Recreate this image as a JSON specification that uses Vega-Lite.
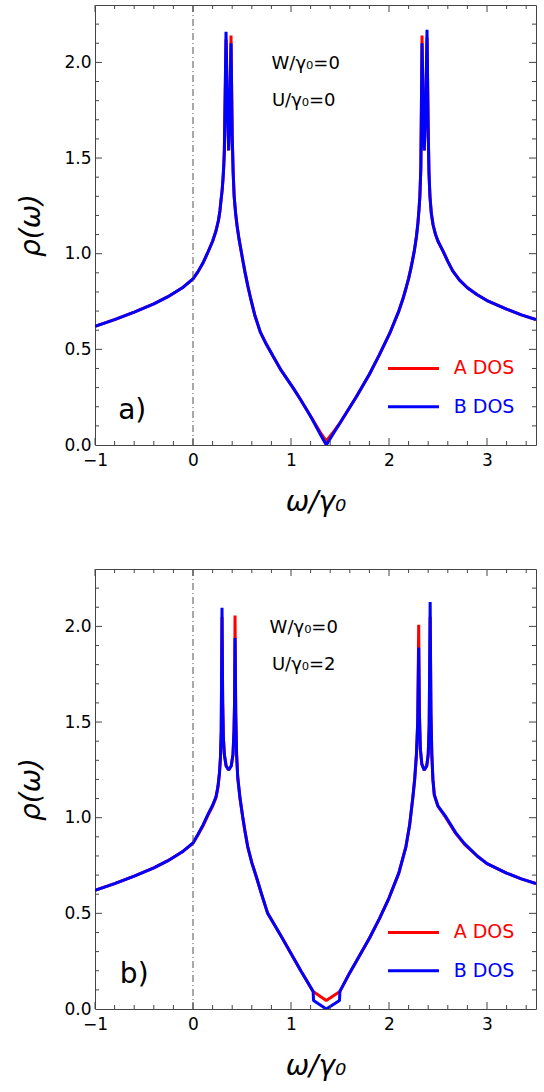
{
  "$schema": "https://vega.github.io/schema/vega-lite/v6.json",
  "background": "white",
  "padding": {"left": 17, "top": 4, "right": 8, "bottom": 0},
  "autosize": {"type": "pad"},
  "config": {
    "view": {"stroke": "#444", "strokeWidth": 1},
    "axis": {"grid": false, "domain": false, "ticks": false, "labelFont": "DejaVu Sans", "labelFontSize": 17, "labelColor": "black", "labelFlush": false, "titleFont": "DejaVu Sans", "titleFontStyle": "italic", "titleFontWeight": "normal", "titleFontSize": 28, "titleColor": "black"},
    "text": {"font": "DejaVu Sans"}
  },
  "datasets": {
    "curves_a": [
      {"s": "A", "x": -1, "y": 0.62}, {"s": "A", "x": -0.8, "y": 0.655}, {"s": "A", "x": -0.6, "y": 0.695}, {"s": "A", "x": -0.4, "y": 0.738}, {"s": "A", "x": -0.26, "y": 0.774}, {"s": "A", "x": -0.1, "y": 0.825}, {"s": "A", "x": 0, "y": 0.868}, {"s": "A", "x": 0.05, "y": 0.905}, {"s": "A", "x": 0.1, "y": 0.95}, {"s": "A", "x": 0.15, "y": 1.005}, {"s": "A", "x": 0.2, "y": 1.065}, {"s": "A", "x": 0.235, "y": 1.12}, {"s": "A", "x": 0.26, "y": 1.175}, {"s": "A", "x": 0.275, "y": 1.225}, {"s": "A", "x": 0.286, "y": 1.28}, {"s": "A", "x": 0.297, "y": 1.33}, {"s": "A", "x": 0.306, "y": 1.39}, {"s": "A", "x": 0.314, "y": 1.46}, {"s": "A", "x": 0.32, "y": 1.54}, {"s": "A", "x": 0.337, "y": 2.12}, {"s": "A", "x": 0.352, "y": 1.75}, {"s": "A", "x": 0.364, "y": 1.54}, {"s": "A", "x": 0.376, "y": 1.75}, {"s": "A", "x": 0.388, "y": 2.14}, {"s": "A", "x": 0.4, "y": 1.62}, {"s": "A", "x": 0.41, "y": 1.42}, {"s": "A", "x": 0.42, "y": 1.3}, {"s": "A", "x": 0.435, "y": 1.21}, {"s": "A", "x": 0.45, "y": 1.145}, {"s": "A", "x": 0.47, "y": 1.075}, {"s": "A", "x": 0.49, "y": 1.018}, {"s": "A", "x": 0.51, "y": 0.96}, {"s": "A", "x": 0.53, "y": 0.905}, {"s": "A", "x": 0.56, "y": 0.83}, {"s": "A", "x": 0.59, "y": 0.762}, {"s": "A", "x": 0.63, "y": 0.68}, {"s": "A", "x": 0.687, "y": 0.59}, {"s": "A", "x": 0.75, "y": 0.525}, {"s": "A", "x": 0.816, "y": 0.465}, {"s": "A", "x": 0.9, "y": 0.39}, {"s": "A", "x": 1.02, "y": 0.3}, {"s": "A", "x": 1.1, "y": 0.235}, {"s": "A", "x": 1.2, "y": 0.15}, {"s": "A", "x": 1.3, "y": 0.065}, {"s": "A", "x": 1.36, "y": 0.02}, {"s": "A", "x": 1.42, "y": 0.06}, {"s": "A", "x": 1.5, "y": 0.115}, {"s": "A", "x": 1.667, "y": 0.252}, {"s": "A", "x": 1.8, "y": 0.37}, {"s": "A", "x": 1.9, "y": 0.47}, {"s": "A", "x": 2.007, "y": 0.583}, {"s": "A", "x": 2.1, "y": 0.7}, {"s": "A", "x": 2.14, "y": 0.76}, {"s": "A", "x": 2.177, "y": 0.826}, {"s": "A", "x": 2.2, "y": 0.87}, {"s": "A", "x": 2.22, "y": 0.915}, {"s": "A", "x": 2.24, "y": 0.965}, {"s": "A", "x": 2.26, "y": 1.02}, {"s": "A", "x": 2.28, "y": 1.09}, {"s": "A", "x": 2.295, "y": 1.16}, {"s": "A", "x": 2.306, "y": 1.23}, {"s": "A", "x": 2.315, "y": 1.3}, {"s": "A", "x": 2.325, "y": 1.45}, {"s": "A", "x": 2.337, "y": 2.14}, {"s": "A", "x": 2.349, "y": 1.75}, {"s": "A", "x": 2.36, "y": 1.54}, {"s": "A", "x": 2.374, "y": 1.75}, {"s": "A", "x": 2.388, "y": 2.13}, {"s": "A", "x": 2.4, "y": 1.65}, {"s": "A", "x": 2.408, "y": 1.42}, {"s": "A", "x": 2.418, "y": 1.3}, {"s": "A", "x": 2.432, "y": 1.21}, {"s": "A", "x": 2.45, "y": 1.15}, {"s": "A", "x": 2.475, "y": 1.1}, {"s": "A", "x": 2.5, "y": 1.065}, {"s": "A", "x": 2.55, "y": 1.015}, {"s": "A", "x": 2.6, "y": 0.96}, {"s": "A", "x": 2.65, "y": 0.91}, {"s": "A", "x": 2.72, "y": 0.862}, {"s": "A", "x": 2.8, "y": 0.822}, {"s": "A", "x": 2.9, "y": 0.785}, {"s": "A", "x": 3.0, "y": 0.755}, {"s": "A", "x": 3.2, "y": 0.71}, {"s": "A", "x": 3.35, "y": 0.68}, {"s": "A", "x": 3.5, "y": 0.656},
      {"s": "B", "x": -1, "y": 0.62}, {"s": "B", "x": -0.8, "y": 0.655}, {"s": "B", "x": -0.6, "y": 0.695}, {"s": "B", "x": -0.4, "y": 0.738}, {"s": "B", "x": -0.26, "y": 0.774}, {"s": "B", "x": -0.1, "y": 0.825}, {"s": "B", "x": 0, "y": 0.868}, {"s": "B", "x": 0.05, "y": 0.905}, {"s": "B", "x": 0.1, "y": 0.95}, {"s": "B", "x": 0.15, "y": 1.005}, {"s": "B", "x": 0.2, "y": 1.065}, {"s": "B", "x": 0.235, "y": 1.12}, {"s": "B", "x": 0.26, "y": 1.175}, {"s": "B", "x": 0.275, "y": 1.225}, {"s": "B", "x": 0.286, "y": 1.28}, {"s": "B", "x": 0.297, "y": 1.33}, {"s": "B", "x": 0.306, "y": 1.39}, {"s": "B", "x": 0.314, "y": 1.46}, {"s": "B", "x": 0.32, "y": 1.54}, {"s": "B", "x": 0.337, "y": 2.16}, {"s": "B", "x": 0.352, "y": 1.75}, {"s": "B", "x": 0.364, "y": 1.54}, {"s": "B", "x": 0.376, "y": 1.75}, {"s": "B", "x": 0.388, "y": 2.1}, {"s": "B", "x": 0.4, "y": 1.62}, {"s": "B", "x": 0.41, "y": 1.42}, {"s": "B", "x": 0.42, "y": 1.3}, {"s": "B", "x": 0.435, "y": 1.21}, {"s": "B", "x": 0.45, "y": 1.145}, {"s": "B", "x": 0.47, "y": 1.075}, {"s": "B", "x": 0.49, "y": 1.018}, {"s": "B", "x": 0.51, "y": 0.96}, {"s": "B", "x": 0.53, "y": 0.905}, {"s": "B", "x": 0.56, "y": 0.83}, {"s": "B", "x": 0.59, "y": 0.762}, {"s": "B", "x": 0.63, "y": 0.68}, {"s": "B", "x": 0.687, "y": 0.59}, {"s": "B", "x": 0.75, "y": 0.525}, {"s": "B", "x": 0.816, "y": 0.465}, {"s": "B", "x": 0.9, "y": 0.39}, {"s": "B", "x": 1.02, "y": 0.3}, {"s": "B", "x": 1.1, "y": 0.235}, {"s": "B", "x": 1.2, "y": 0.15}, {"s": "B", "x": 1.3, "y": 0.055}, {"s": "B", "x": 1.36, "y": 0.0}, {"s": "B", "x": 1.42, "y": 0.05}, {"s": "B", "x": 1.5, "y": 0.115}, {"s": "B", "x": 1.667, "y": 0.252}, {"s": "B", "x": 1.8, "y": 0.37}, {"s": "B", "x": 1.9, "y": 0.47}, {"s": "B", "x": 2.007, "y": 0.583}, {"s": "B", "x": 2.1, "y": 0.7}, {"s": "B", "x": 2.14, "y": 0.76}, {"s": "B", "x": 2.177, "y": 0.826}, {"s": "B", "x": 2.2, "y": 0.87}, {"s": "B", "x": 2.22, "y": 0.915}, {"s": "B", "x": 2.24, "y": 0.965}, {"s": "B", "x": 2.26, "y": 1.02}, {"s": "B", "x": 2.28, "y": 1.09}, {"s": "B", "x": 2.295, "y": 1.16}, {"s": "B", "x": 2.306, "y": 1.23}, {"s": "B", "x": 2.315, "y": 1.3}, {"s": "B", "x": 2.325, "y": 1.45}, {"s": "B", "x": 2.337, "y": 2.1}, {"s": "B", "x": 2.349, "y": 1.75}, {"s": "B", "x": 2.36, "y": 1.54}, {"s": "B", "x": 2.374, "y": 1.75}, {"s": "B", "x": 2.388, "y": 2.17}, {"s": "B", "x": 2.4, "y": 1.65}, {"s": "B", "x": 2.408, "y": 1.42}, {"s": "B", "x": 2.418, "y": 1.3}, {"s": "B", "x": 2.432, "y": 1.21}, {"s": "B", "x": 2.45, "y": 1.15}, {"s": "B", "x": 2.475, "y": 1.1}, {"s": "B", "x": 2.5, "y": 1.065}, {"s": "B", "x": 2.55, "y": 1.015}, {"s": "B", "x": 2.6, "y": 0.96}, {"s": "B", "x": 2.65, "y": 0.91}, {"s": "B", "x": 2.72, "y": 0.862}, {"s": "B", "x": 2.8, "y": 0.822}, {"s": "B", "x": 2.9, "y": 0.785}, {"s": "B", "x": 3.0, "y": 0.755}, {"s": "B", "x": 3.2, "y": 0.71}, {"s": "B", "x": 3.35, "y": 0.68}, {"s": "B", "x": 3.5, "y": 0.656}
    ],
    "curves_b": [
      {"s": "A", "x": -1, "y": 0.62}, {"s": "A", "x": -0.8, "y": 0.655}, {"s": "A", "x": -0.6, "y": 0.695}, {"s": "A", "x": -0.4, "y": 0.738}, {"s": "A", "x": -0.26, "y": 0.774}, {"s": "A", "x": -0.1, "y": 0.825}, {"s": "A", "x": 0, "y": 0.866}, {"s": "A", "x": 0.05, "y": 0.91}, {"s": "A", "x": 0.1, "y": 0.955}, {"s": "A", "x": 0.15, "y": 1.01}, {"s": "A", "x": 0.2, "y": 1.06}, {"s": "A", "x": 0.235, "y": 1.105}, {"s": "A", "x": 0.255, "y": 1.16}, {"s": "A", "x": 0.27, "y": 1.23}, {"s": "A", "x": 0.28, "y": 1.31}, {"s": "A", "x": 0.288, "y": 1.45}, {"s": "A", "x": 0.296, "y": 2.05}, {"s": "A", "x": 0.303, "y": 1.6}, {"s": "A", "x": 0.31, "y": 1.42}, {"s": "A", "x": 0.32, "y": 1.33}, {"s": "A", "x": 0.338, "y": 1.27}, {"s": "A", "x": 0.364, "y": 1.249}, {"s": "A", "x": 0.39, "y": 1.27}, {"s": "A", "x": 0.408, "y": 1.33}, {"s": "A", "x": 0.418, "y": 1.45}, {"s": "A", "x": 0.424, "y": 1.6}, {"s": "A", "x": 0.429, "y": 2.057}, {"s": "A", "x": 0.436, "y": 1.55}, {"s": "A", "x": 0.445, "y": 1.33}, {"s": "A", "x": 0.456, "y": 1.214}, {"s": "A", "x": 0.48, "y": 1.1}, {"s": "A", "x": 0.507, "y": 1.005}, {"s": "A", "x": 0.53, "y": 0.93}, {"s": "A", "x": 0.558, "y": 0.849}, {"s": "A", "x": 0.6, "y": 0.765}, {"s": "A", "x": 0.65, "y": 0.685}, {"s": "A", "x": 0.7, "y": 0.6}, {"s": "A", "x": 0.762, "y": 0.5}, {"s": "A", "x": 0.9, "y": 0.38}, {"s": "A", "x": 1.0, "y": 0.29}, {"s": "A", "x": 1.1, "y": 0.2}, {"s": "A", "x": 1.226, "y": 0.092}, {"s": "A", "x": 1.36, "y": 0.045}, {"s": "A", "x": 1.499, "y": 0.092}, {"s": "A", "x": 1.6, "y": 0.19}, {"s": "A", "x": 1.667, "y": 0.25}, {"s": "A", "x": 1.8, "y": 0.37}, {"s": "A", "x": 1.9, "y": 0.47}, {"s": "A", "x": 2.0, "y": 0.58}, {"s": "A", "x": 2.1, "y": 0.71}, {"s": "A", "x": 2.173, "y": 0.849}, {"s": "A", "x": 2.21, "y": 0.96}, {"s": "A", "x": 2.242, "y": 1.1}, {"s": "A", "x": 2.262, "y": 1.2}, {"s": "A", "x": 2.28, "y": 1.33}, {"s": "A", "x": 2.293, "y": 1.5}, {"s": "A", "x": 2.303, "y": 2.009}, {"s": "A", "x": 2.31, "y": 1.55}, {"s": "A", "x": 2.32, "y": 1.36}, {"s": "A", "x": 2.335, "y": 1.28}, {"s": "A", "x": 2.36, "y": 1.249}, {"s": "A", "x": 2.385, "y": 1.27}, {"s": "A", "x": 2.4, "y": 1.33}, {"s": "A", "x": 2.41, "y": 1.48}, {"s": "A", "x": 2.42, "y": 2.05}, {"s": "A", "x": 2.428, "y": 1.55}, {"s": "A", "x": 2.437, "y": 1.33}, {"s": "A", "x": 2.448, "y": 1.2}, {"s": "A", "x": 2.462, "y": 1.12}, {"s": "A", "x": 2.5, "y": 1.06}, {"s": "A", "x": 2.58, "y": 1.0}, {"s": "A", "x": 2.68, "y": 0.918}, {"s": "A", "x": 2.768, "y": 0.862}, {"s": "A", "x": 2.9, "y": 0.8}, {"s": "A", "x": 3.0, "y": 0.76}, {"s": "A", "x": 3.2, "y": 0.71}, {"s": "A", "x": 3.35, "y": 0.68}, {"s": "A", "x": 3.5, "y": 0.656},
      {"s": "B", "x": -1, "y": 0.62}, {"s": "B", "x": -0.8, "y": 0.655}, {"s": "B", "x": -0.6, "y": 0.695}, {"s": "B", "x": -0.4, "y": 0.738}, {"s": "B", "x": -0.26, "y": 0.774}, {"s": "B", "x": -0.1, "y": 0.825}, {"s": "B", "x": 0, "y": 0.868}, {"s": "B", "x": 0.05, "y": 0.912}, {"s": "B", "x": 0.1, "y": 0.96}, {"s": "B", "x": 0.15, "y": 1.015}, {"s": "B", "x": 0.2, "y": 1.065}, {"s": "B", "x": 0.235, "y": 1.11}, {"s": "B", "x": 0.255, "y": 1.165}, {"s": "B", "x": 0.27, "y": 1.235}, {"s": "B", "x": 0.28, "y": 1.315}, {"s": "B", "x": 0.288, "y": 1.45}, {"s": "B", "x": 0.296, "y": 2.098}, {"s": "B", "x": 0.303, "y": 1.6}, {"s": "B", "x": 0.31, "y": 1.42}, {"s": "B", "x": 0.32, "y": 1.33}, {"s": "B", "x": 0.338, "y": 1.27}, {"s": "B", "x": 0.364, "y": 1.249}, {"s": "B", "x": 0.39, "y": 1.27}, {"s": "B", "x": 0.408, "y": 1.33}, {"s": "B", "x": 0.418, "y": 1.45}, {"s": "B", "x": 0.424, "y": 1.6}, {"s": "B", "x": 0.429, "y": 1.939}, {"s": "B", "x": 0.436, "y": 1.55}, {"s": "B", "x": 0.445, "y": 1.33}, {"s": "B", "x": 0.456, "y": 1.214}, {"s": "B", "x": 0.48, "y": 1.1}, {"s": "B", "x": 0.507, "y": 1.005}, {"s": "B", "x": 0.53, "y": 0.93}, {"s": "B", "x": 0.558, "y": 0.849}, {"s": "B", "x": 0.6, "y": 0.765}, {"s": "B", "x": 0.65, "y": 0.685}, {"s": "B", "x": 0.7, "y": 0.6}, {"s": "B", "x": 0.762, "y": 0.5}, {"s": "B", "x": 0.9, "y": 0.38}, {"s": "B", "x": 1.0, "y": 0.29}, {"s": "B", "x": 1.1, "y": 0.2}, {"s": "B", "x": 1.226, "y": 0.092}, {"s": "B", "x": 1.23, "y": 0.045}, {"s": "B", "x": 1.36, "y": 0.0}, {"s": "B", "x": 1.495, "y": 0.045}, {"s": "B", "x": 1.499, "y": 0.092}, {"s": "B", "x": 1.6, "y": 0.19}, {"s": "B", "x": 1.667, "y": 0.25}, {"s": "B", "x": 1.8, "y": 0.37}, {"s": "B", "x": 1.9, "y": 0.47}, {"s": "B", "x": 2.0, "y": 0.58}, {"s": "B", "x": 2.1, "y": 0.71}, {"s": "B", "x": 2.173, "y": 0.849}, {"s": "B", "x": 2.21, "y": 0.96}, {"s": "B", "x": 2.242, "y": 1.1}, {"s": "B", "x": 2.262, "y": 1.2}, {"s": "B", "x": 2.28, "y": 1.33}, {"s": "B", "x": 2.293, "y": 1.5}, {"s": "B", "x": 2.303, "y": 1.889}, {"s": "B", "x": 2.31, "y": 1.55}, {"s": "B", "x": 2.32, "y": 1.36}, {"s": "B", "x": 2.335, "y": 1.28}, {"s": "B", "x": 2.36, "y": 1.249}, {"s": "B", "x": 2.385, "y": 1.27}, {"s": "B", "x": 2.4, "y": 1.33}, {"s": "B", "x": 2.41, "y": 1.48}, {"s": "B", "x": 2.42, "y": 2.127}, {"s": "B", "x": 2.428, "y": 1.55}, {"s": "B", "x": 2.437, "y": 1.33}, {"s": "B", "x": 2.448, "y": 1.2}, {"s": "B", "x": 2.462, "y": 1.12}, {"s": "B", "x": 2.5, "y": 1.06}, {"s": "B", "x": 2.58, "y": 1.005}, {"s": "B", "x": 2.68, "y": 0.922}, {"s": "B", "x": 2.768, "y": 0.866}, {"s": "B", "x": 2.9, "y": 0.8}, {"s": "B", "x": 3.0, "y": 0.76}, {"s": "B", "x": 3.2, "y": 0.71}, {"s": "B", "x": 3.35, "y": 0.68}, {"s": "B", "x": 3.5, "y": 0.656}
    ],
    "legend": [
      {"s": "A", "label": "A DOS", "x": 1.99, "x2": 2.51, "tx": 2.66, "y": 0.4},
      {"s": "B", "label": "B DOS", "x": 1.99, "x2": 2.51, "tx": 2.66, "y": 0.2}
    ],
    "frame_ticks": [
      {"x": -1, "x2": -1, "y": 0, "y2": 0.0366}, {"x": 0, "x2": 0, "y": 0, "y2": 0.0366}, {"x": 1, "x2": 1, "y": 0, "y2": 0.0366}, {"x": 2, "x2": 2, "y": 0, "y2": 0.0366}, {"x": 3, "x2": 3, "y": 0, "y2": 0.0366},
      {"x": -0.8, "x2": -0.8, "y": 0, "y2": 0.0209}, {"x": -0.6, "x2": -0.6, "y": 0, "y2": 0.0209}, {"x": -0.4, "x2": -0.4, "y": 0, "y2": 0.0209}, {"x": -0.2, "x2": -0.2, "y": 0, "y2": 0.0209}, {"x": 0.2, "x2": 0.2, "y": 0, "y2": 0.0209}, {"x": 0.4, "x2": 0.4, "y": 0, "y2": 0.0209}, {"x": 0.6, "x2": 0.6, "y": 0, "y2": 0.0209}, {"x": 0.8, "x2": 0.8, "y": 0, "y2": 0.0209}, {"x": 1.2, "x2": 1.2, "y": 0, "y2": 0.0209}, {"x": 1.4, "x2": 1.4, "y": 0, "y2": 0.0209}, {"x": 1.6, "x2": 1.6, "y": 0, "y2": 0.0209}, {"x": 1.8, "x2": 1.8, "y": 0, "y2": 0.0209}, {"x": 2.2, "x2": 2.2, "y": 0, "y2": 0.0209}, {"x": 2.4, "x2": 2.4, "y": 0, "y2": 0.0209}, {"x": 2.6, "x2": 2.6, "y": 0, "y2": 0.0209}, {"x": 2.8, "x2": 2.8, "y": 0, "y2": 0.0209}, {"x": 3.2, "x2": 3.2, "y": 0, "y2": 0.0209}, {"x": 3.4, "x2": 3.4, "y": 0, "y2": 0.0209},
      {"x": -1, "x2": -1, "y": 2.3, "y2": 2.2634}, {"x": 0, "x2": 0, "y": 2.3, "y2": 2.2634}, {"x": 1, "x2": 1, "y": 2.3, "y2": 2.2634}, {"x": 2, "x2": 2, "y": 2.3, "y2": 2.2634}, {"x": 3, "x2": 3, "y": 2.3, "y2": 2.2634},
      {"x": -0.8, "x2": -0.8, "y": 2.3, "y2": 2.2791}, {"x": -0.6, "x2": -0.6, "y": 2.3, "y2": 2.2791}, {"x": -0.4, "x2": -0.4, "y": 2.3, "y2": 2.2791}, {"x": -0.2, "x2": -0.2, "y": 2.3, "y2": 2.2791}, {"x": 0.2, "x2": 0.2, "y": 2.3, "y2": 2.2791}, {"x": 0.4, "x2": 0.4, "y": 2.3, "y2": 2.2791}, {"x": 0.6, "x2": 0.6, "y": 2.3, "y2": 2.2791}, {"x": 0.8, "x2": 0.8, "y": 2.3, "y2": 2.2791}, {"x": 1.2, "x2": 1.2, "y": 2.3, "y2": 2.2791}, {"x": 1.4, "x2": 1.4, "y": 2.3, "y2": 2.2791}, {"x": 1.6, "x2": 1.6, "y": 2.3, "y2": 2.2791}, {"x": 1.8, "x2": 1.8, "y": 2.3, "y2": 2.2791}, {"x": 2.2, "x2": 2.2, "y": 2.3, "y2": 2.2791}, {"x": 2.4, "x2": 2.4, "y": 2.3, "y2": 2.2791}, {"x": 2.6, "x2": 2.6, "y": 2.3, "y2": 2.2791}, {"x": 2.8, "x2": 2.8, "y": 2.3, "y2": 2.2791}, {"x": 3.2, "x2": 3.2, "y": 2.3, "y2": 2.2791}, {"x": 3.4, "x2": 3.4, "y": 2.3, "y2": 2.2791},
      {"x": -1, "x2": -0.9286, "y": 0.5, "y2": 0.5}, {"x": -1, "x2": -0.9286, "y": 1, "y2": 1}, {"x": -1, "x2": -0.9286, "y": 1.5, "y2": 1.5}, {"x": -1, "x2": -0.9286, "y": 2, "y2": 2},
      {"x": -1, "x2": -0.9592, "y": 0.1, "y2": 0.1}, {"x": -1, "x2": -0.9592, "y": 0.2, "y2": 0.2}, {"x": -1, "x2": -0.9592, "y": 0.3, "y2": 0.3}, {"x": -1, "x2": -0.9592, "y": 0.4, "y2": 0.4}, {"x": -1, "x2": -0.9592, "y": 0.6, "y2": 0.6}, {"x": -1, "x2": -0.9592, "y": 0.7, "y2": 0.7}, {"x": -1, "x2": -0.9592, "y": 0.8, "y2": 0.8}, {"x": -1, "x2": -0.9592, "y": 0.9, "y2": 0.9}, {"x": -1, "x2": -0.9592, "y": 1.1, "y2": 1.1}, {"x": -1, "x2": -0.9592, "y": 1.2, "y2": 1.2}, {"x": -1, "x2": -0.9592, "y": 1.3, "y2": 1.3}, {"x": -1, "x2": -0.9592, "y": 1.4, "y2": 1.4}, {"x": -1, "x2": -0.9592, "y": 1.6, "y2": 1.6}, {"x": -1, "x2": -0.9592, "y": 1.7, "y2": 1.7}, {"x": -1, "x2": -0.9592, "y": 1.8, "y2": 1.8}, {"x": -1, "x2": -0.9592, "y": 1.9, "y2": 1.9}, {"x": -1, "x2": -0.9592, "y": 2.1, "y2": 2.1}, {"x": -1, "x2": -0.9592, "y": 2.2, "y2": 2.2},
      {"x": 3.5, "x2": 3.4286, "y": 0.5, "y2": 0.5}, {"x": 3.5, "x2": 3.4286, "y": 1, "y2": 1}, {"x": 3.5, "x2": 3.4286, "y": 1.5, "y2": 1.5}, {"x": 3.5, "x2": 3.4286, "y": 2, "y2": 2},
      {"x": 3.5, "x2": 3.4592, "y": 0.1, "y2": 0.1}, {"x": 3.5, "x2": 3.4592, "y": 0.2, "y2": 0.2}, {"x": 3.5, "x2": 3.4592, "y": 0.3, "y2": 0.3}, {"x": 3.5, "x2": 3.4592, "y": 0.4, "y2": 0.4}, {"x": 3.5, "x2": 3.4592, "y": 0.6, "y2": 0.6}, {"x": 3.5, "x2": 3.4592, "y": 0.7, "y2": 0.7}, {"x": 3.5, "x2": 3.4592, "y": 0.8, "y2": 0.8}, {"x": 3.5, "x2": 3.4592, "y": 0.9, "y2": 0.9}, {"x": 3.5, "x2": 3.4592, "y": 1.1, "y2": 1.1}, {"x": 3.5, "x2": 3.4592, "y": 1.2, "y2": 1.2}, {"x": 3.5, "x2": 3.4592, "y": 1.3, "y2": 1.3}, {"x": 3.5, "x2": 3.4592, "y": 1.4, "y2": 1.4}, {"x": 3.5, "x2": 3.4592, "y": 1.6, "y2": 1.6}, {"x": 3.5, "x2": 3.4592, "y": 1.7, "y2": 1.7}, {"x": 3.5, "x2": 3.4592, "y": 1.8, "y2": 1.8}, {"x": 3.5, "x2": 3.4592, "y": 1.9, "y2": 1.9}, {"x": 3.5, "x2": 3.4592, "y": 2.1, "y2": 2.1}, {"x": 3.5, "x2": 3.4592, "y": 2.2, "y2": 2.2}
    ],
    "zero": [{"x": 0}]
  },
  "vconcat": [
    {
      "width": 441, "height": 440,
      "layer": [
        {
          "data": {"name": "curves_a"},
          "mark": {"type": "line", "strokeWidth": 3, "strokeJoin": "bevel", "clip": true},
          "encoding": {
            "x": {"field": "x", "type": "quantitative", "scale": {"domain": [-1, 3.5], "nice": false, "zero": false}, "axis": {"values": [-1, 0, 1, 2, 3], "format": "d", "labelPadding": 7, "title": "ω/γ₀", "titlePadding": 20}},
            "y": {"field": "y", "type": "quantitative", "scale": {"domain": [0, 2.3], "nice": false, "zero": false}, "axis": {"values": [0, 0.5, 1, 1.5, 2], "format": ".1f", "labelPadding": 4, "title": "ρ(ω)", "titlePadding": 18}},
            "color": {"field": "s", "type": "nominal", "scale": {"domain": ["A", "B"], "range": ["#ff0000", "#0000ff"]}, "legend": null}
          }
        },
        {
          "data": {"name": "zero"},
          "mark": {"type": "rule", "color": "#555", "strokeWidth": 1, "strokeDash": [7, 3, 1, 3]},
          "encoding": {"x": {"field": "x", "type": "quantitative", "scale": {"domain": [-1, 3.5], "nice": false, "zero": false}, "axis": {"values": [-1, 0, 1, 2, 3], "format": "d", "labelPadding": 7, "title": "ω/γ₀", "titlePadding": 20}}}
        },
        {
          "data": {"name": "frame_ticks"},
          "mark": {"type": "rule", "color": "#444", "strokeWidth": 1},
          "encoding": {
            "x": {"field": "x", "type": "quantitative", "scale": {"domain": [-1, 3.5], "nice": false, "zero": false}, "axis": {"values": [-1, 0, 1, 2, 3], "format": "d", "labelPadding": 7, "title": "ω/γ₀", "titlePadding": 20}},
            "x2": {"field": "x2"},
            "y": {"field": "y", "type": "quantitative", "scale": {"domain": [0, 2.3], "nice": false, "zero": false}, "axis": {"values": [0, 0.5, 1, 1.5, 2], "format": ".1f", "labelPadding": 4, "title": "ρ(ω)", "titlePadding": 18}},
            "y2": {"field": "y2"}
          }
        },
        {
          "data": {"name": "legend"},
          "mark": {"type": "rule", "strokeWidth": 3},
          "encoding": {
            "x": {"field": "x", "type": "quantitative", "scale": {"domain": [-1, 3.5], "nice": false, "zero": false}, "axis": {"values": [-1, 0, 1, 2, 3], "format": "d", "labelPadding": 7, "title": "ω/γ₀", "titlePadding": 20}},
            "x2": {"field": "x2"},
            "y": {"field": "y", "type": "quantitative", "scale": {"domain": [0, 2.3], "nice": false, "zero": false}, "axis": {"values": [0, 0.5, 1, 1.5, 2], "format": ".1f", "labelPadding": 4, "title": "ρ(ω)", "titlePadding": 18}},
            "color": {"field": "s", "type": "nominal", "scale": {"domain": ["A", "B"], "range": ["#ff0000", "#0000ff"]}, "legend": null}
          }
        },
        {
          "data": {"values": [{"t": "W/γ₀=0", "x": 1.15, "y": 1.99}, {"t": "U/γ₀=0", "x": 1.13, "y": 1.8}]},
          "mark": {"type": "text", "fontSize": 18, "color": "black", "align": "center", "baseline": "middle"},
          "encoding": {
            "x": {"field": "x", "type": "quantitative", "scale": {"domain": [-1, 3.5], "nice": false, "zero": false}, "axis": {"values": [-1, 0, 1, 2, 3], "format": "d", "labelPadding": 7, "title": "ω/γ₀", "titlePadding": 20}},
            "y": {"field": "y", "type": "quantitative", "scale": {"domain": [0, 2.3], "nice": false, "zero": false}, "axis": {"values": [0, 0.5, 1, 1.5, 2], "format": ".1f", "labelPadding": 4, "title": "ρ(ω)", "titlePadding": 18}},
            "text": {"field": "t"}
          }
        },
        {
          "data": {"name": "legend"},
          "mark": {"type": "text", "fontSize": 19, "align": "left", "baseline": "middle"},
          "encoding": {
            "x": {"field": "tx", "type": "quantitative", "scale": {"domain": [-1, 3.5], "nice": false, "zero": false}, "axis": {"values": [-1, 0, 1, 2, 3], "format": "d", "labelPadding": 7, "title": "ω/γ₀", "titlePadding": 20}},
            "y": {"field": "y", "type": "quantitative", "scale": {"domain": [0, 2.3], "nice": false, "zero": false}, "axis": {"values": [0, 0.5, 1, 1.5, 2], "format": ".1f", "labelPadding": 4, "title": "ρ(ω)", "titlePadding": 18}},
            "text": {"field": "label"},
            "color": {"field": "s", "type": "nominal", "scale": {"domain": ["A", "B"], "range": ["#ff0000", "#0000ff"]}, "legend": null}
          }
        },
        {
          "data": {"values": [{"t": "a)", "x": -0.62, "y": 0.18}]},
          "mark": {"type": "text", "fontSize": 28, "color": "black", "align": "center", "baseline": "middle"},
          "encoding": {
            "x": {"field": "x", "type": "quantitative", "scale": {"domain": [-1, 3.5], "nice": false, "zero": false}, "axis": {"values": [-1, 0, 1, 2, 3], "format": "d", "labelPadding": 7, "title": "ω/γ₀", "titlePadding": 20}},
            "y": {"field": "y", "type": "quantitative", "scale": {"domain": [0, 2.3], "nice": false, "zero": false}, "axis": {"values": [0, 0.5, 1, 1.5, 2], "format": ".1f", "labelPadding": 4, "title": "ρ(ω)", "titlePadding": 18}},
            "text": {"field": "t"}
          }
        }
      ]
    },
    {
      "width": 441, "height": 440,
      "layer": [
        {
          "data": {"name": "curves_b"},
          "mark": {"type": "line", "strokeWidth": 3, "strokeJoin": "bevel", "clip": true},
          "encoding": {
            "x": {"field": "x", "type": "quantitative", "scale": {"domain": [-1, 3.5], "nice": false, "zero": false}, "axis": {"values": [-1, 0, 1, 2, 3], "format": "d", "labelPadding": 7, "title": "ω/γ₀", "titlePadding": 20}},
            "y": {"field": "y", "type": "quantitative", "scale": {"domain": [0, 2.3], "nice": false, "zero": false}, "axis": {"values": [0, 0.5, 1, 1.5, 2], "format": ".1f", "labelPadding": 4, "title": "ρ(ω)", "titlePadding": 18}},
            "color": {"field": "s", "type": "nominal", "scale": {"domain": ["A", "B"], "range": ["#ff0000", "#0000ff"]}, "legend": null}
          }
        },
        {
          "data": {"name": "zero"},
          "mark": {"type": "rule", "color": "#555", "strokeWidth": 1, "strokeDash": [7, 3, 1, 3]},
          "encoding": {"x": {"field": "x", "type": "quantitative", "scale": {"domain": [-1, 3.5], "nice": false, "zero": false}, "axis": {"values": [-1, 0, 1, 2, 3], "format": "d", "labelPadding": 7, "title": "ω/γ₀", "titlePadding": 20}}}
        },
        {
          "data": {"name": "frame_ticks"},
          "mark": {"type": "rule", "color": "#444", "strokeWidth": 1},
          "encoding": {
            "x": {"field": "x", "type": "quantitative", "scale": {"domain": [-1, 3.5], "nice": false, "zero": false}, "axis": {"values": [-1, 0, 1, 2, 3], "format": "d", "labelPadding": 7, "title": "ω/γ₀", "titlePadding": 20}},
            "x2": {"field": "x2"},
            "y": {"field": "y", "type": "quantitative", "scale": {"domain": [0, 2.3], "nice": false, "zero": false}, "axis": {"values": [0, 0.5, 1, 1.5, 2], "format": ".1f", "labelPadding": 4, "title": "ρ(ω)", "titlePadding": 18}},
            "y2": {"field": "y2"}
          }
        },
        {
          "data": {"name": "legend"},
          "mark": {"type": "rule", "strokeWidth": 3},
          "encoding": {
            "x": {"field": "x", "type": "quantitative", "scale": {"domain": [-1, 3.5], "nice": false, "zero": false}, "axis": {"values": [-1, 0, 1, 2, 3], "format": "d", "labelPadding": 7, "title": "ω/γ₀", "titlePadding": 20}},
            "x2": {"field": "x2"},
            "y": {"field": "y", "type": "quantitative", "scale": {"domain": [0, 2.3], "nice": false, "zero": false}, "axis": {"values": [0, 0.5, 1, 1.5, 2], "format": ".1f", "labelPadding": 4, "title": "ρ(ω)", "titlePadding": 18}},
            "color": {"field": "s", "type": "nominal", "scale": {"domain": ["A", "B"], "range": ["#ff0000", "#0000ff"]}, "legend": null}
          }
        },
        {
          "data": {"values": [{"t": "W/γ₀=0", "x": 1.13, "y": 1.99}, {"t": "U/γ₀=2", "x": 1.13, "y": 1.8}]},
          "mark": {"type": "text", "fontSize": 18, "color": "black", "align": "center", "baseline": "middle"},
          "encoding": {
            "x": {"field": "x", "type": "quantitative", "scale": {"domain": [-1, 3.5], "nice": false, "zero": false}, "axis": {"values": [-1, 0, 1, 2, 3], "format": "d", "labelPadding": 7, "title": "ω/γ₀", "titlePadding": 20}},
            "y": {"field": "y", "type": "quantitative", "scale": {"domain": [0, 2.3], "nice": false, "zero": false}, "axis": {"values": [0, 0.5, 1, 1.5, 2], "format": ".1f", "labelPadding": 4, "title": "ρ(ω)", "titlePadding": 18}},
            "text": {"field": "t"}
          }
        },
        {
          "data": {"name": "legend"},
          "mark": {"type": "text", "fontSize": 19, "align": "left", "baseline": "middle"},
          "encoding": {
            "x": {"field": "tx", "type": "quantitative", "scale": {"domain": [-1, 3.5], "nice": false, "zero": false}, "axis": {"values": [-1, 0, 1, 2, 3], "format": "d", "labelPadding": 7, "title": "ω/γ₀", "titlePadding": 20}},
            "y": {"field": "y", "type": "quantitative", "scale": {"domain": [0, 2.3], "nice": false, "zero": false}, "axis": {"values": [0, 0.5, 1, 1.5, 2], "format": ".1f", "labelPadding": 4, "title": "ρ(ω)", "titlePadding": 18}},
            "text": {"field": "label"},
            "color": {"field": "s", "type": "nominal", "scale": {"domain": ["A", "B"], "range": ["#ff0000", "#0000ff"]}, "legend": null}
          }
        },
        {
          "data": {"values": [{"t": "b)", "x": -0.6, "y": 0.18}]},
          "mark": {"type": "text", "fontSize": 28, "color": "black", "align": "center", "baseline": "middle"},
          "encoding": {
            "x": {"field": "x", "type": "quantitative", "scale": {"domain": [-1, 3.5], "nice": false, "zero": false}, "axis": {"values": [-1, 0, 1, 2, 3], "format": "d", "labelPadding": 7, "title": "ω/γ₀", "titlePadding": 20}},
            "y": {"field": "y", "type": "quantitative", "scale": {"domain": [0, 2.3], "nice": false, "zero": false}, "axis": {"values": [0, 0.5, 1, 1.5, 2], "format": ".1f", "labelPadding": 4, "title": "ρ(ω)", "titlePadding": 18}},
            "text": {"field": "t"}
          }
        }
      ]
    }
  ],
  "spacing": 124,
  "bounds": "flush"
}
